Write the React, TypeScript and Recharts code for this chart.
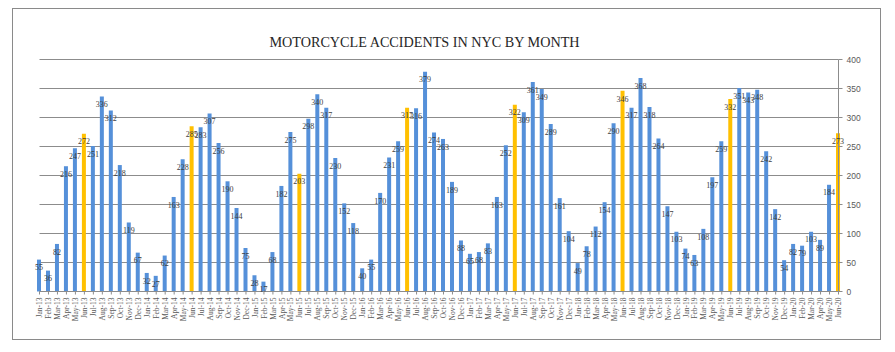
import React from 'react';
import { BarChart, Bar, XAxis, YAxis, CartesianGrid, LabelList, Cell } from 'recharts';

const monthNames = ['Jan', 'Feb', 'Mar', 'Apr', 'May', 'Jun', 'Jul', 'Aug', 'Sep', 'Oct', 'Nov', 'Dec'];
const yearLabels = ['13', '14', '15', '16', '17', '18', '19', '20'];

const values2013 = [55, 36, 82, 216, 247, 272, 251, 336, 312, 218, 119, 67];
const values2014 = [32, 27, 62, 163, 228, 285, 283, 307, 256, 190, 144, 75];
const values2015 = [28, 17, 68, 182, 275, 203, 298, 340, 317, 230, 152, 118];
const values2016 = [40, 55, 170, 231, 259, 317, 316, 379, 274, 263, 189, 88];
const values2017 = [65, 68, 83, 163, 252, 322, 309, 361, 349, 289, 161, 104];
const values2018 = [49, 78, 112, 154, 290, 346, 317, 368, 318, 264, 147, 103];
const values2019 = [74, 63, 108, 197, 259, 332, 351, 343, 348, 242, 142, 54];
const values2020 = [82, 79, 103, 89, 184, 273];

const yearValues = [values2013, values2014, values2015, values2016, values2017, values2018, values2019, values2020];
const yTicks = [0, 50, 100, 150, 200, 250, 300, 350, 400];
const highlightMonth = 'Jun';

const data: { idx: number; label: string; month: string; value: number }[] = [];
yearValues.forEach((vals, yi) => {
  vals.forEach((v, mi) => {
    data.push({ idx: data.length, label: `${monthNames[mi]}-${yearLabels[yi]}`, month: monthNames[mi], value: v });
  });
});
const xTicks = data.map((d) => d.idx);

const BLUE = '#5590d9';
const YELLOW = '#ffc000';
const GRID = '#8c8c8c';
const TEXT = '#595959';

const XTick = (props: any) => {
  const { x, y, payload } = props;
  const d = data[payload.value];
  if (!d) return null;
  return (
    <text
      x={x}
      y={y + 1}
      transform={`rotate(-90, ${x}, ${y + 1})`}
      textAnchor="end"
      dy="0.35em"
      fontFamily="'Liberation Serif', serif"
      fontSize={7.5}
      fill={TEXT}
    >
      {d.label}
    </text>
  );
};

export default function App() {
  return (
    <div style={{ position: 'absolute', left: 0, top: 0, width: 895, height: 352, background: '#fff' }}>
      <div
        style={{
          position: 'absolute',
          left: 12,
          top: 8,
          width: 869,
          height: 332,
          boxSizing: 'border-box',
          border: '1px solid #8a8a8a',
        }}
      />
      <div
        style={{
          position: 'absolute',
          left: 0,
          width: 849,
          top: 35,
          textAlign: 'center',
          fontFamily: "'Liberation Serif', serif",
          fontSize: 14.2,
          lineHeight: '15px',
          color: '#262626',
          whiteSpace: 'nowrap',
        }}
      >
        MOTORCYCLE ACCIDENTS IN NYC BY MONTH
      </div>
      <div style={{ position: 'absolute', left: 0, top: 0 }}>
        <BarChart
          width={895}
          height={352}
          data={data}
          margin={{ top: 59.5, right: 26.5, bottom: 25.5, left: 39.5 }}
        >
          <CartesianGrid vertical={false} stroke={GRID} strokeWidth={1} />
          <XAxis
            dataKey="idx"
            type="number"
            domain={[0, 89]}
            ticks={xTicks}
            interval={0}
            height={35}
            tick={<XTick />}
            tickSize={3}
            tickLine={{ stroke: GRID }}
            axisLine={{ stroke: GRID }}
            allowDecimals={false}
          />
          <YAxis
            orientation="right"
            type="number"
            domain={[0, 400]}
            ticks={yTicks}
            width={30}
            tickSize={4}
            tickMargin={4}
            tickLine={{ stroke: GRID }}
            axisLine={{ stroke: GRID }}
            tick={{ fontSize: 8.5, fill: TEXT, fontFamily: "'Liberation Sans', sans-serif", textAnchor: 'start' }}
            interval={0}
          />
          <Bar dataKey="value" barSize={4} isAnimationActive={false}>
            {data.map((d) => (
              <Cell key={d.idx} fill={d.month === highlightMonth ? YELLOW : BLUE} />
            ))}
            <LabelList
              dataKey="value"
              position="insideTop"
              offset={5}
              fill="#404040"
              fontSize={8}
              fontFamily="'Liberation Serif', serif"
            />
          </Bar>
        </BarChart>
      </div>
    </div>
  );
}
